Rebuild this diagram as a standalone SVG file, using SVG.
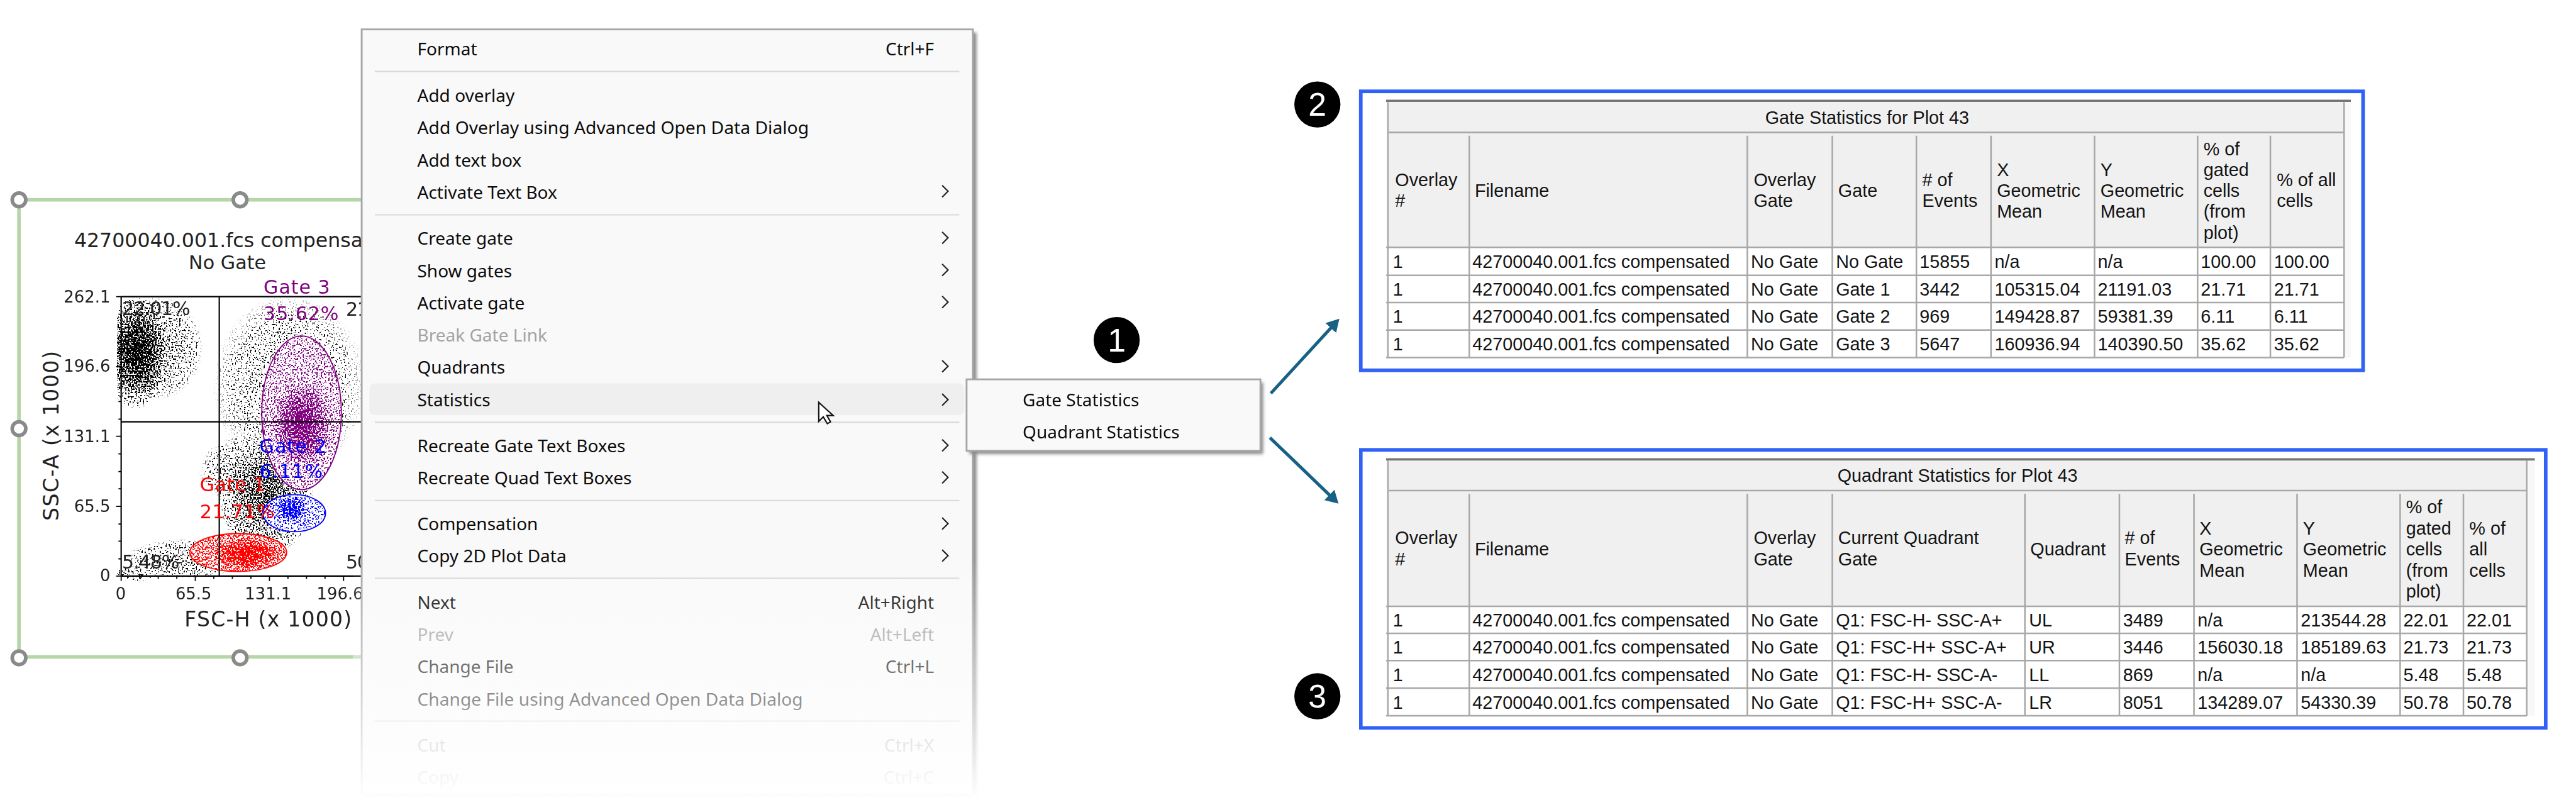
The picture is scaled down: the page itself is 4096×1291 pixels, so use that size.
<svg xmlns="http://www.w3.org/2000/svg" width="4096" height="1291" viewBox="0 0 4096 1291">
<style>
.p{font-family:"DejaVu Sans",sans-serif;fill:#222}
.m{font-family:"Noto Sans","Open Sans",sans-serif;font-size:39px;fill:#0c0c0c}
.d{fill:#a3a3a3}
.t{font-family:"Liberation Sans",Arial,sans-serif;font-size:40px;fill:#141414}
.mid{text-anchor:middle}
.sep{stroke:#d9d9d9;stroke-width:3;fill:none}
.chev{stroke:#222;stroke-width:3;fill:none}
.frame{fill:none;stroke:#3162f7;stroke-width:8}
.dark{stroke:#757575;stroke-width:5;fill:none}
.grid{stroke:#a8a8a8;stroke-width:3.5;fill:none}
.hb{fill:#f0f0f0}
.handle{fill:#fff;stroke:#8a8a8a;stroke-width:8}
.arrow{stroke:#176184;stroke-width:7;fill:none;marker-end:url(#ah)}
.num{font-family:"Liberation Sans",Arial,sans-serif;font-size:72px;fill:#fff;text-anchor:middle}
.gl{font-family:"DejaVu Sans",sans-serif}
</style>
<defs>
<marker id="ah" markerUnits="userSpaceOnUse" markerWidth="30" markerHeight="32" refX="2" refY="16" orient="auto"><path d="M0 0L28 16L0 32Z" fill="#176184"/></marker>
<radialGradient id="dens"><stop offset="0" stop-color="#000" stop-opacity="1"/><stop offset=".4" stop-color="#000" stop-opacity=".7"/><stop offset=".75" stop-color="#000" stop-opacity=".36"/><stop offset="1" stop-color="#000" stop-opacity="0"/></radialGradient>
<radialGradient id="thin"><stop offset="0" stop-color="#000" stop-opacity=".3"/><stop offset=".6" stop-color="#000" stop-opacity=".2"/><stop offset="1" stop-color="#000" stop-opacity="0"/></radialGradient>
<linearGradient id="fade" x1="0" y1="0" x2="0" y2="1"><stop offset="0" stop-color="#fff" stop-opacity="0"/><stop offset=".6" stop-color="#fff" stop-opacity=".55"/><stop offset="1" stop-color="#fff" stop-opacity="1"/></linearGradient>
<filter id="sh" x="-5%" y="-5%" width="110%" height="110%"><feGaussianBlur stdDeviation="4"/></filter>
<filter id="dk" filterUnits="userSpaceOnUse" x="260" y="650" width="560" height="640" color-interpolation-filters="sRGB"><feTurbulence type="fractalNoise" baseFrequency=".3" numOctaves="1" seed="3"/><feColorMatrix values="0 0 0 0 0 0 0 0 0 0 0 0 0 0 0 3.4 0 0 0 -1.2" result="n"/><feComposite in="SourceAlpha" in2="n" operator="arithmetic" k2="1" k3="1" k4="-1"/><feComponentTransfer result="a"><feFuncA type="linear" slope="14"/></feComponentTransfer><feFlood flood-color="#000"/><feComposite in2="a" operator="in"/></filter>
<filter id="pu" filterUnits="userSpaceOnUse" x="570" y="730" width="200" height="360" color-interpolation-filters="sRGB"><feTurbulence type="fractalNoise" baseFrequency=".3" numOctaves="1" seed="9"/><feColorMatrix values="0 0 0 0 0 0 0 0 0 0 0 0 0 0 0 3.4 0 0 0 -1.2" result="n"/><feComposite in="SourceAlpha" in2="n" operator="arithmetic" k2="1" k3="1" k4="-1"/><feComponentTransfer result="a"><feFuncA type="linear" slope="14"/></feComponentTransfer><feFlood flood-color="#800080"/><feComposite in2="a" operator="in"/></filter>
<filter id="bl" filterUnits="userSpaceOnUse" x="570" y="1085" width="170" height="100" color-interpolation-filters="sRGB"><feTurbulence type="fractalNoise" baseFrequency=".3" numOctaves="1" seed="14"/><feColorMatrix values="0 0 0 0 0 0 0 0 0 0 0 0 0 0 0 3.4 0 0 0 -1.2" result="n"/><feComposite in="SourceAlpha" in2="n" operator="arithmetic" k2="1" k3="1" k4="-1"/><feComponentTransfer result="a"><feFuncA type="linear" slope="14"/></feComponentTransfer><feFlood flood-color="#0000ff"/><feComposite in2="a" operator="in"/></filter>
<filter id="rd" filterUnits="userSpaceOnUse" x="410" y="1170" width="240" height="110" color-interpolation-filters="sRGB"><feTurbulence type="fractalNoise" baseFrequency=".3" numOctaves="1" seed="21"/><feColorMatrix values="0 0 0 0 0 0 0 0 0 0 0 0 0 0 0 3.4 0 0 0 -1.2" result="n"/><feComposite in="SourceAlpha" in2="n" operator="arithmetic" k2="1" k3="1" k4="-1"/><feComponentTransfer result="a"><feFuncA type="linear" slope="14"/></feComponentTransfer><feFlood flood-color="#ff0000"/><feComposite in2="a" operator="in"/></filter>
</defs>
<rect width="4096" height="1291" fill="#fff"/>
<g transform="scale(.71885)">
<g id="plot">
<path d="M42 442H830M42 442V1455M42 1453H830" fill="none" stroke="#b5d6a8" stroke-width="8"/>
<circle class="handle" cx="42" cy="442" r="15"/><circle class="handle" cx="531" cy="442" r="15"/><circle class="handle" cx="42" cy="948" r="15"/><circle class="handle" cx="42" cy="1455" r="15"/><circle class="handle" cx="531" cy="1455" r="15"/>
<text class="p" x="164" y="547" font-size="44">42700040.001.fcs compensated</text>
<text class="p mid" x="503" y="596" font-size="42">No Gate</text>
<g filter="url(#dk)">
<ellipse cx="300" cy="780" rx="72" ry="125" fill="url(#dens)"/>
<ellipse cx="345" cy="770" rx="105" ry="115" fill="url(#thin)"/>
<ellipse cx="640" cy="850" rx="170" ry="200" fill="url(#thin)" opacity=".6"/>
<ellipse cx="590" cy="1110" rx="105" ry="115" fill="url(#dens)" opacity=".62"/>
<ellipse cx="410" cy="1235" rx="130" ry="44" fill="url(#thin)"/>
<ellipse cx="300" cy="1268" rx="50" ry="18" fill="url(#thin)"/>
<ellipse cx="560" cy="1040" rx="120" ry="80" fill="url(#thin)"/>
</g>
<ellipse cx="667" cy="913" rx="88" ry="170" fill="#fff"/><ellipse cx="651" cy="1135" rx="69" ry="41" fill="#fff"/><ellipse cx="527" cy="1222" rx="107" ry="42" fill="#fff"/>
<g filter="url(#pu)"><ellipse cx="667" cy="913" rx="87" ry="169" fill="#000" fill-opacity=".3"/><ellipse cx="668" cy="940" rx="66" ry="95" fill="url(#dens)"/></g>
<g filter="url(#bl)"><ellipse cx="651" cy="1135" rx="68" ry="40" fill="#000" fill-opacity=".28"/><ellipse cx="645" cy="1125" rx="38" ry="30" fill="url(#dens)"/></g>
<g filter="url(#rd)"><ellipse cx="527" cy="1222" rx="106" ry="41" fill="#000" fill-opacity=".45"/><ellipse cx="545" cy="1225" rx="75" ry="36" fill="url(#dens)"/></g>
<ellipse cx="667" cy="913" rx="88" ry="170" fill="none" stroke="#800080" stroke-width="2.5"/>
<ellipse cx="651" cy="1135" rx="69" ry="41" fill="none" stroke="#00f" stroke-width="2.5"/>
<ellipse cx="527" cy="1222" rx="107" ry="42" fill="none" stroke="#f00" stroke-width="2.5"/>
<path d="M268 656V1274M268 656H810M268 1274H810M485 656V1274M268 933H810" fill="none" stroke="#000" stroke-width="3"/>
<path d="M257 656H268M262 695H268M262 733H268M262 772H268M257 811H268M262 849H268M262 888H268M262 927H268M257 965H268M262 1004H268M262 1043H268M262 1081H268M257 1120H268M262 1159H268M262 1197H268M262 1236H268M257 1274H268M268 1274V1285M309 1274V1280M350 1274V1280M391 1274V1280M432 1274V1285M473 1274V1280M514 1274V1280M555 1274V1280M596 1274V1285M637 1274V1280M678 1274V1280M719 1274V1280M760 1274V1285" fill="none" stroke="#000" stroke-width="2.5"/>
<g font-size="36">
<text class="p" x="244" y="669" text-anchor="end">262.1</text><text class="p" x="244" y="822" text-anchor="end">196.6</text><text class="p" x="244" y="978" text-anchor="end">131.1</text><text class="p" x="244" y="1132" text-anchor="end">65.5</text><text class="p" x="244" y="1286" text-anchor="end">0</text>
<text class="p mid" x="267" y="1326">0</text><text class="p mid" x="428" y="1326">65.5</text><text class="p mid" x="593" y="1326">131.1</text><text class="p mid" x="752" y="1326">196.6</text>
</g>
<text class="p" x="408" y="1385" font-size="46" textLength="370">FSC-H (x 1000)</text>
<text class="p mid" transform="translate(129 964) rotate(-90)" font-size="46" textLength="376">SSC-A (x 1000)</text>
<g font-size="42">
<text class="gl" x="583" y="650" fill="#800080" textLength="147">Gate 3</text>
<text class="gl" x="583" y="708" fill="#800080" textLength="166">35.62%</text>
<text class="gl" x="574" y="1001" fill="#0000ff" textLength="148">Gate 2</text>
<text class="gl" x="574" y="1057" fill="#0000ff" textLength="140">6.11%</text>
<text class="gl" x="442" y="1087" fill="#ff0000" textLength="145">Gate 1</text>
<text class="gl" x="442" y="1146" fill="#ff0000" textLength="165">21.71%</text>
<text class="p" x="270" y="697" textLength="151">22.01%</text>
<text class="p" x="270" y="1258" textLength="127">5.48%</text>
<text class="p" x="765" y="699" textLength="151">21.73%</text>
<text class="p" x="765" y="1258" textLength="151">50.78%</text>
</g>
</g>
<g id="menu">
<rect x="806" y="72" width="1354" height="1690" fill="#8a8a8a" filter="url(#sh)"/>
<rect x="800" y="65" width="1352" height="1692" fill="#f9f9f9" stroke="#a6a6a6" stroke-width="4"/>
<rect x="817" y="848" width="1316" height="70" rx="12" fill="#efefef"/>
<path class="sep" d="M829 158H2122M829 475H2122M829 934H2122M829 1107H2122M829 1279H2122M829 1595H2122"/>
<text class="m" x="923" y="123">Format</text><text class="m" x="2066" y="123" text-anchor="end">Ctrl+F</text>
<text class="m" x="923" y="225">Add overlay</text>
<text class="m" x="923" y="297" textLength="866" lengthAdjust="spacingAndGlyphs">Add Overlay using Advanced Open Data Dialog</text>
<text class="m" x="923" y="368">Add text box</text>
<text class="m" x="923" y="439">Activate Text Box</text>
<text class="m" x="923" y="541">Create gate</text>
<text class="m" x="923" y="613">Show gates</text>
<text class="m" x="923" y="684">Activate gate</text>
<text class="m d" x="923" y="756">Break Gate Link</text>
<text class="m" x="923" y="826">Quadrants</text>
<text class="m" x="923" y="898">Statistics</text>
<text class="m" x="923" y="1000">Recreate Gate Text Boxes</text>
<text class="m" x="923" y="1071">Recreate Quad Text Boxes</text>
<text class="m" x="923" y="1173">Compensation</text>
<text class="m" x="923" y="1244">Copy 2D Plot Data</text>
<text class="m" x="923" y="1346">Next</text><text class="m" x="2066" y="1346" text-anchor="end">Alt+Right</text>
<text class="m d" x="923" y="1417">Prev</text><text class="m d" x="2066" y="1417" text-anchor="end">Alt+Left</text>
<text class="m" x="923" y="1489">Change File</text><text class="m" x="2066" y="1489" text-anchor="end">Ctrl+L</text>
<text class="m" x="923" y="1561" textLength="853" lengthAdjust="spacingAndGlyphs">Change File using Advanced Open Data Dialog</text>
<text class="m d" x="923" y="1662">Cut</text><text class="m d" x="2066" y="1662" text-anchor="end">Ctrl+X</text>
<text class="m d" x="923" y="1734">Copy</text><text class="m d" x="2066" y="1734" text-anchor="end">Ctrl+C</text>
<path class="chev" d="M2084 410L2097 423L2084 436M2084 513L2097 526L2084 539M2084 584L2097 597L2084 610M2084 655L2097 668L2084 681M2084 797L2097 810L2084 823M2084 871L2097 884L2084 897M2084 972L2097 985L2084 998M2084 1043L2097 1056L2084 1069M2084 1145L2097 1158L2084 1171M2084 1216L2097 1229L2084 1242"/>
<path d="M1811 890V932L1821 922L1830 937L1837 933L1829 919H1843Z" fill="#fff" stroke="#111" stroke-width="3"/>
<rect x="780" y="1230" width="1400" height="540" fill="url(#fade)"/>
<rect x="780" y="1770" width="1400" height="26" fill="#fff"/>
</g>
<g id="submenu">
<rect x="2144" y="846" width="650" height="158" fill="#8a8a8a" filter="url(#sh)"/>
<rect x="2138" y="839" width="650" height="158" fill="#f9f9f9" stroke="#a6a6a6" stroke-width="4"/>
<text class="m" x="2262" y="898">Gate Statistics</text>
<text class="m" x="2262" y="970">Quadrant Statistics</text>
</g>
<g id="badge1"><circle cx="2470" cy="752" r="51"/><text class="num" x="2470" y="777">1</text></g>
<g id="badge2"><circle cx="2914" cy="231" r="51"/><text class="num" x="2914" y="256">2</text></g>
<g id="badge3"><circle cx="2914" cy="1540" r="51"/><text class="num" x="2914" y="1565">3</text></g>
<g id="connectors">
<path class="arrow" d="M2811 870L2945 724"/>
<path class="arrow" d="M2809 968L2942 1096"/>
</g>
<g id="gate-table">
<rect class="frame" x="3010" y="202" width="2217" height="617"/>
<rect x="3070" y="226" width="2130" height="565" fill="#f4f4f4" opacity=".6"/>
<rect x="3070" y="226" width="2115" height="565" fill="#fff"/>
<rect class="hb" x="3070" y="226" width="2115" height="67"/>
<rect class="hb" x="3070" y="295" width="2115" height="252"/>
<path class="grid" d="M3070 293H5185M3066 547H5185M3066 609H5185M3066 669H5185M3066 730H5185M3066 791H5185M3070 226V791M3250 300V791M3865 300V791M4053 300V791M4239 300V791M4404 300V791M4633 300V791M4861 300V791M5022 300V791M5185 226V791"/>
<path class="dark" d="M3066 223H5200"/>
<text class="t mid" x="4130" y="274">Gate Statistics for Plot 43</text>
<text class="t" x="3086" y="412">Overlay</text><text class="t" x="3086" y="458">#</text>
<text class="t" x="3262" y="435">Filename</text>
<text class="t" x="3879" y="412">Overlay</text><text class="t" x="3879" y="458">Gate</text>
<text class="t" x="4066" y="435">Gate</text>
<text class="t" x="4252" y="412"># of</text><text class="t" x="4252" y="458">Events</text>
<text class="t" x="4417" y="389">X</text><text class="t" x="4417" y="435">Geometric</text><text class="t" x="4417" y="482">Mean</text>
<text class="t" x="4646" y="389">Y</text><text class="t" x="4646" y="435">Geometric</text><text class="t" x="4646" y="482">Mean</text>
<text class="t" x="4874" y="343">% of</text><text class="t" x="4874" y="389">gated</text><text class="t" x="4874" y="435">cells</text><text class="t" x="4874" y="482">(from</text><text class="t" x="4874" y="529">plot)</text>
<text class="t" x="5036" y="412">% of all</text><text class="t" x="5036" y="458">cells</text>
<text class="t" x="3081" y="593">1</text><text class="t" x="3257" y="593">42700040.001.fcs compensated</text><text class="t" x="3873" y="593">No Gate</text><text class="t" x="4061" y="593">No Gate</text><text class="t" x="4246" y="593">15855</text><text class="t" x="4412" y="593">n/a</text><text class="t" x="4640" y="593">n/a</text><text class="t" x="4868" y="593">100.00</text><text class="t" x="5030" y="593">100.00</text>
<text class="t" x="3081" y="654">1</text><text class="t" x="3257" y="654">42700040.001.fcs compensated</text><text class="t" x="3873" y="654">No Gate</text><text class="t" x="4061" y="654">Gate 1</text><text class="t" x="4246" y="654">3442</text><text class="t" x="4412" y="654">105315.04</text><text class="t" x="4640" y="654">21191.03</text><text class="t" x="4868" y="654">21.71</text><text class="t" x="5030" y="654">21.71</text>
<text class="t" x="3081" y="714">1</text><text class="t" x="3257" y="714">42700040.001.fcs compensated</text><text class="t" x="3873" y="714">No Gate</text><text class="t" x="4061" y="714">Gate 2</text><text class="t" x="4246" y="714">969</text><text class="t" x="4412" y="714">149428.87</text><text class="t" x="4640" y="714">59381.39</text><text class="t" x="4868" y="714">6.11</text><text class="t" x="5030" y="714">6.11</text>
<text class="t" x="3081" y="775">1</text><text class="t" x="3257" y="775">42700040.001.fcs compensated</text><text class="t" x="3873" y="775">No Gate</text><text class="t" x="4061" y="775">Gate 3</text><text class="t" x="4246" y="775">5647</text><text class="t" x="4412" y="775">160936.94</text><text class="t" x="4640" y="775">140390.50</text><text class="t" x="4868" y="775">35.62</text><text class="t" x="5030" y="775">35.62</text>
</g>
<g id="quadrant-table">
<rect class="frame" x="3010" y="995" width="2621" height="615"/>
<rect x="3070" y="1019" width="2537" height="564" fill="#f4f4f4" opacity=".6"/>
<rect x="3070" y="1019" width="2519" height="564" fill="#fff"/>
<rect class="hb" x="3070" y="1019" width="2519" height="66"/>
<rect class="hb" x="3070" y="1087" width="2519" height="254"/>
<path class="grid" d="M3070 1085H5589M3066 1341H5589M3066 1401H5589M3066 1461H5589M3066 1522H5589M3066 1583H5589M3070 1019V1583M3250 1092V1583M3865 1092V1583M4053 1092V1583M4479 1092V1583M4688 1092V1583M4853 1092V1583M5081 1092V1583M5309 1092V1583M5449 1092V1583M5589 1019V1583"/>
<path class="dark" d="M3066 1016H5607"/>
<text class="t mid" x="4330" y="1066">Quadrant Statistics for Plot 43</text>
<text class="t" x="3086" y="1204">Overlay</text><text class="t" x="3086" y="1250">#</text>
<text class="t" x="3262" y="1228">Filename</text>
<text class="t" x="3879" y="1204">Overlay</text><text class="t" x="3879" y="1250">Gate</text>
<text class="t" x="4066" y="1204">Current Quadrant</text><text class="t" x="4066" y="1250">Gate</text>
<text class="t" x="4491" y="1228">Quadrant</text>
<text class="t" x="4700" y="1204"># of</text><text class="t" x="4700" y="1250">Events</text>
<text class="t" x="4865" y="1182">X</text><text class="t" x="4865" y="1228">Geometric</text><text class="t" x="4865" y="1275">Mean</text>
<text class="t" x="5094" y="1182">Y</text><text class="t" x="5094" y="1228">Geometric</text><text class="t" x="5094" y="1275">Mean</text>
<text class="t" x="5322" y="1135">% of</text><text class="t" x="5322" y="1182">gated</text><text class="t" x="5322" y="1228">cells</text><text class="t" x="5322" y="1275">(from</text><text class="t" x="5322" y="1321">plot)</text>
<text class="t" x="5462" y="1182">% of</text><text class="t" x="5462" y="1228">all</text><text class="t" x="5462" y="1275">cells</text>
<text class="t" x="3081" y="1386">1</text><text class="t" x="3257" y="1386">42700040.001.fcs compensated</text><text class="t" x="3873" y="1386">No Gate</text><text class="t" x="4061" y="1386">Q1: FSC-H- SSC-A+</text><text class="t" x="4488" y="1386">UL</text><text class="t" x="4696" y="1386">3489</text><text class="t" x="4861" y="1386">n/a</text><text class="t" x="5089" y="1386">213544.28</text><text class="t" x="5316" y="1386">22.01</text><text class="t" x="5456" y="1386">22.01</text>
<text class="t" x="3081" y="1446">1</text><text class="t" x="3257" y="1446">42700040.001.fcs compensated</text><text class="t" x="3873" y="1446">No Gate</text><text class="t" x="4061" y="1446">Q1: FSC-H+ SSC-A+</text><text class="t" x="4488" y="1446">UR</text><text class="t" x="4696" y="1446">3446</text><text class="t" x="4861" y="1446">156030.18</text><text class="t" x="5089" y="1446">185189.63</text><text class="t" x="5316" y="1446">21.73</text><text class="t" x="5456" y="1446">21.73</text>
<text class="t" x="3081" y="1507">1</text><text class="t" x="3257" y="1507">42700040.001.fcs compensated</text><text class="t" x="3873" y="1507">No Gate</text><text class="t" x="4061" y="1507">Q1: FSC-H- SSC-A-</text><text class="t" x="4488" y="1507">LL</text><text class="t" x="4696" y="1507">869</text><text class="t" x="4861" y="1507">n/a</text><text class="t" x="5089" y="1507">n/a</text><text class="t" x="5316" y="1507">5.48</text><text class="t" x="5456" y="1507">5.48</text>
<text class="t" x="3081" y="1568">1</text><text class="t" x="3257" y="1568">42700040.001.fcs compensated</text><text class="t" x="3873" y="1568">No Gate</text><text class="t" x="4061" y="1568">Q1: FSC-H+ SSC-A-</text><text class="t" x="4488" y="1568">LR</text><text class="t" x="4696" y="1568">8051</text><text class="t" x="4861" y="1568">134289.07</text><text class="t" x="5089" y="1568">54330.39</text><text class="t" x="5316" y="1568">50.78</text><text class="t" x="5456" y="1568">50.78</text>
</g>
</g>
</svg>
